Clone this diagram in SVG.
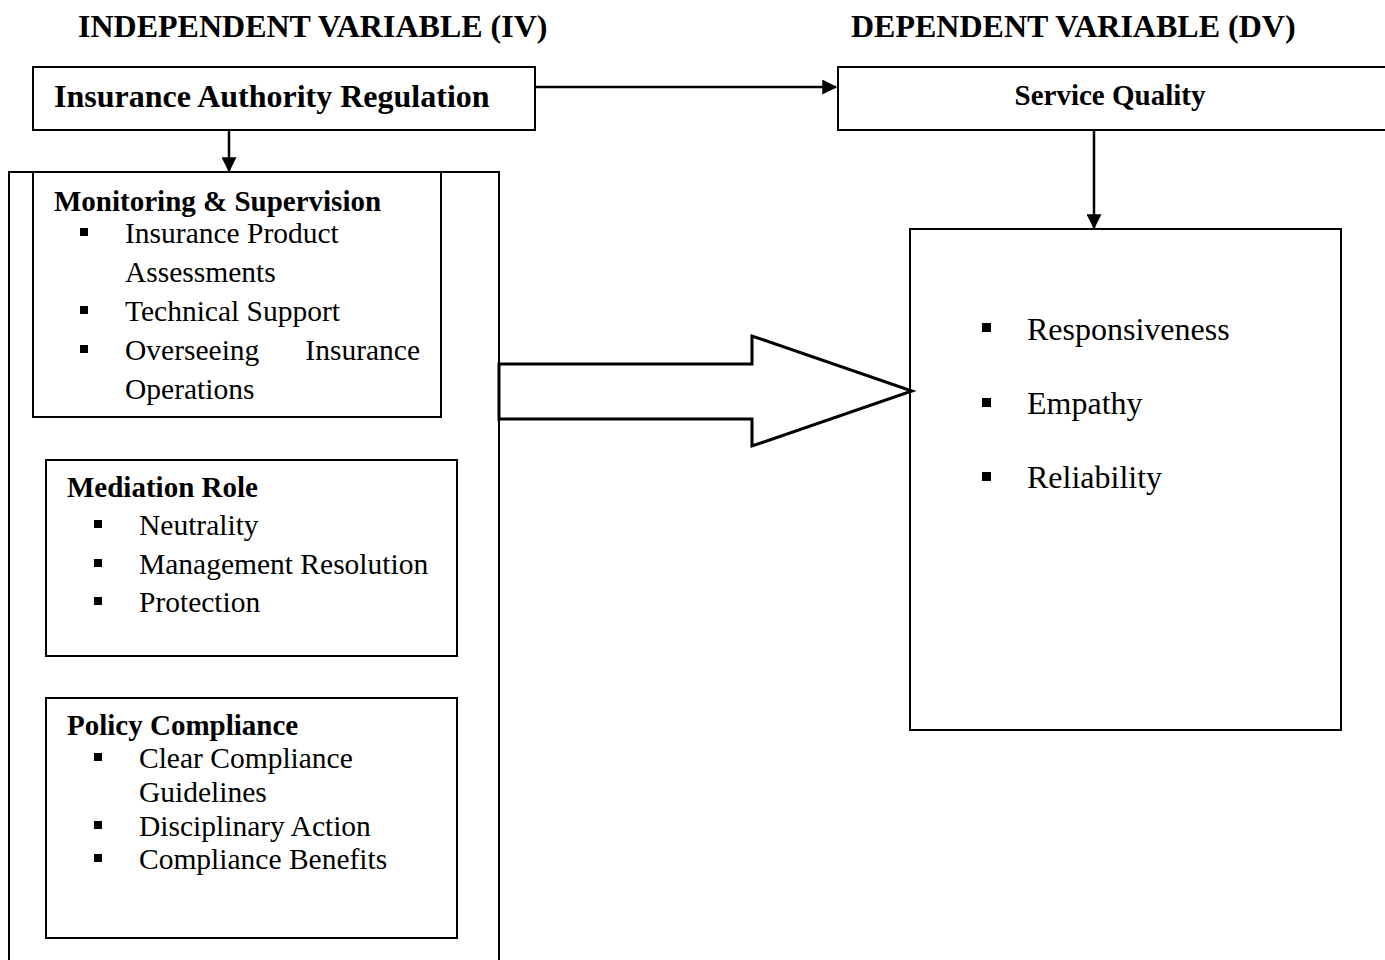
<svg xmlns="http://www.w3.org/2000/svg" width="1385" height="960" viewBox="0 0 1385 960">
<style>
text{font-family:"Liberation Serif","Times New Roman",serif;fill:#000}
.ttl{font-weight:bold;font-size:32px}
.h{font-weight:bold;font-size:29px}
.t{font-size:29.5px}
.r{font-size:32px}
.box{fill:#fff;stroke:#000;stroke-width:2}
.ln{stroke:#000;stroke-width:2.5;fill:none}
.b{fill:#000}
</style>
<defs>
<marker id="ah" markerWidth="6" markerHeight="6" refX="5.5" refY="3" orient="auto" markerUnits="strokeWidth">
<path d="M0,0 L6,3 L0,6 Z" fill="#000"/>
</marker>
</defs>
<text class="ttl" x="78" y="37">INDEPENDENT VARIABLE (IV)</text>
<text class="ttl" x="851" y="37">DEPENDENT VARIABLE (DV)</text>

<g id="outer">
<rect class="box" x="9" y="172" width="490" height="800"/>
</g>
<g id="iar">
<rect class="box" x="33" y="67" width="502" height="63"/>
<text x="54" y="107" style="font-weight:bold;font-size:32px">Insurance Authority Regulation</text>
</g>
<g id="sq">
<rect class="box" x="838" y="67" width="560" height="63"/>
<text x="1110" y="105" text-anchor="middle" style="font-weight:bold;font-size:29px">Service Quality</text>
</g>
<g id="ms">
<rect class="box" x="33" y="172" width="408" height="245"/>
<text class="h" x="54" y="211">Monitoring &amp; Supervision</text>
<rect class="b" x="80" y="228" width="8" height="8"/>
<text class="t" x="125" y="243">Insurance Product</text>
<text class="t" x="125" y="282">Assessments</text>
<rect class="b" x="80" y="306" width="8" height="8"/>
<text class="t" x="125" y="321">Technical Support</text>
<rect class="b" x="80" y="345" width="8" height="8"/>
<text class="t" x="125" y="360">Overseeing</text>
<text class="t" x="420" y="360" text-anchor="end">Insurance</text>
<text class="t" x="125" y="399">Operations</text>
</g>
<g id="mr">
<rect class="box" x="46" y="460" width="411" height="196"/>
<text class="h" x="67" y="497">Mediation Role</text>
<rect class="b" x="94" y="520" width="8" height="8"/>
<text class="t" x="139" y="535">Neutrality</text>
<rect class="b" x="94" y="559" width="8" height="8"/>
<text class="t" x="139" y="574">Management Resolution</text>
<rect class="b" x="94" y="597" width="8" height="8"/>
<text class="t" x="139" y="612">Protection</text>
</g>
<g id="pc">
<rect class="box" x="46" y="698" width="411" height="240"/>
<text class="h" x="67" y="735">Policy Compliance</text>
<rect class="b" x="94" y="753" width="8" height="8"/>
<text class="t" x="139" y="768">Clear Compliance</text>
<text class="t" x="139" y="802">Guidelines</text>
<rect class="b" x="94" y="821" width="8" height="8"/>
<text class="t" x="139" y="836">Disciplinary Action</text>
<rect class="b" x="94" y="854" width="8" height="8"/>
<text class="t" x="139" y="869">Compliance Benefits</text>
</g>
<g id="dv">
<rect class="box" x="910" y="229" width="431" height="501"/>
<rect class="b" x="982" y="323" width="9" height="9"/>
<text class="r" x="1027" y="340">Responsiveness</text>
<rect class="b" x="982" y="398" width="9" height="9"/>
<text class="r" x="1027" y="414">Empathy</text>
<rect class="b" x="982" y="472" width="9" height="9"/>
<text class="r" x="1027" y="488">Reliability</text>
</g>
<g id="connectors">
<line class="ln" x1="535" y1="87" x2="836" y2="87" marker-end="url(#ah)"/>
<line class="ln" x1="229" y1="130" x2="229" y2="171" marker-end="url(#ah)"/>
<line class="ln" x1="1094" y1="130" x2="1094" y2="228" marker-end="url(#ah)"/>
<polygon class="ln" points="499,364 752,364 752,336 912,391 752,446 752,419 499,419" style="fill:#fff;stroke-width:3"/>
</g>
</svg>
